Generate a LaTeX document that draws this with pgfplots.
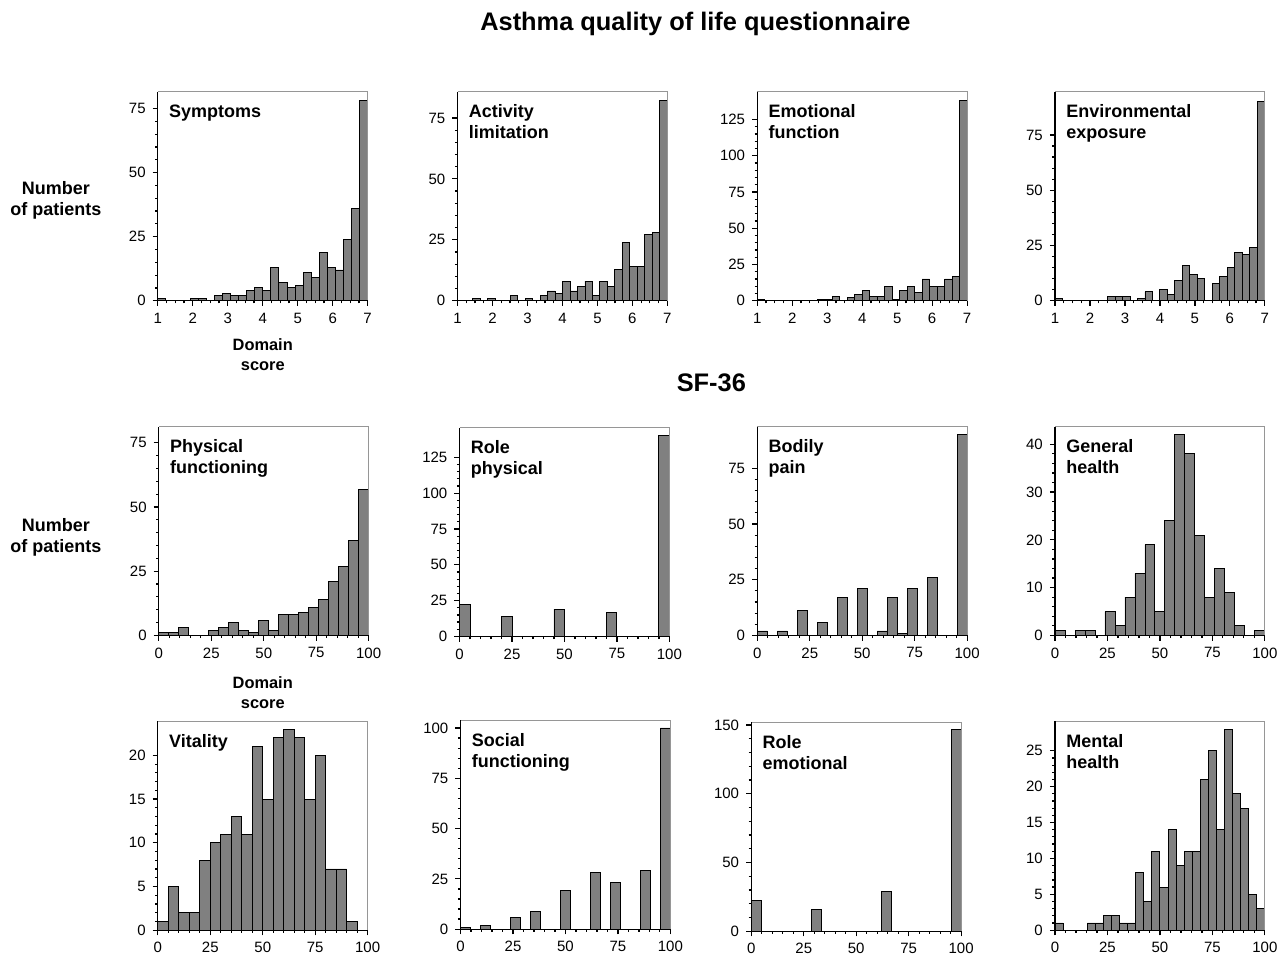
\documentclass[border=0pt]{standalone}
\usepackage{fontspec}
\setmainfont{Liberation Sans}
\usepackage{pgfplots}
\usepackage{pgfplotstable}
\pgfplotsset{compat=1.18}

\definecolor{barfill}{RGB}{128,128,128}
\definecolor{framegray}{RGB}{150,150,150}

% counts per bin, bins read left to right; last row closes the interval
\pgfplotstableread[row sep=\\]{n\\1\\0\\0\\0\\1\\1\\0\\2\\3\\2\\2\\4\\5\\4\\13\\7\\5\\6\\11\\9\\19\\13\\12\\24\\36\\78\\0\\}\tSym
\pgfplotstableread[row sep=\\]{n\\0\\0\\1\\0\\1\\0\\0\\2\\0\\1\\0\\2\\4\\3\\8\\4\\6\\8\\2\\8\\6\\13\\24\\14\\14\\27\\28\\82\\0\\}\tAct
\pgfplotstableread[row sep=\\]{n\\1\\0\\0\\0\\0\\0\\0\\0\\1\\1\\3\\0\\2\\4\\7\\3\\3\\10\\1\\7\\10\\6\\15\\10\\10\\15\\17\\138\\0\\}\tEmo
\pgfplotstableread[row sep=\\]{n\\1\\0\\0\\0\\0\\0\\0\\2\\2\\2\\0\\1\\4\\0\\5\\3\\9\\16\\12\\10\\0\\8\\11\\15\\22\\21\\24\\90\\0\\}\tEnv
\pgfplotstableread[row sep=\\]{n\\1\\1\\3\\0\\0\\2\\3\\5\\2\\1\\6\\2\\8\\8\\9\\11\\14\\21\\27\\37\\57\\0\\}\tPF
\pgfplotstableread[row sep=\\]{n\\22\\0\\0\\0\\14\\0\\0\\0\\0\\19\\0\\0\\0\\0\\17\\0\\0\\0\\0\\140\\0\\}\tRP
\pgfplotstableread[row sep=\\]{n\\2\\0\\2\\0\\11\\0\\6\\0\\17\\0\\21\\0\\2\\17\\1\\21\\0\\26\\0\\0\\90\\0\\}\tBP
\pgfplotstableread[row sep=\\]{n\\1\\0\\1\\1\\0\\5\\2\\8\\13\\19\\5\\24\\42\\38\\21\\8\\14\\9\\2\\0\\1\\0\\}\tGH
\pgfplotstableread[row sep=\\]{n\\1\\5\\2\\2\\8\\10\\11\\13\\11\\21\\15\\22\\23\\22\\15\\20\\7\\7\\1\\0\\0\\}\tVT
\pgfplotstableread[row sep=\\]{n\\1\\0\\2\\0\\0\\6\\0\\9\\0\\0\\19\\0\\0\\28\\0\\23\\0\\0\\29\\0\\100\\0\\}\tSF
\pgfplotstableread[row sep=\\]{n\\22\\0\\0\\0\\0\\0\\16\\0\\0\\0\\0\\0\\0\\29\\0\\0\\0\\0\\0\\0\\147\\0\\}\tRE
\pgfplotstableread[row sep=\\]{n\\1\\0\\0\\0\\1\\1\\2\\2\\1\\1\\8\\4\\11\\6\\14\\9\\11\\11\\21\\25\\14\\28\\19\\17\\5\\3\\0\\}\tMH

\pgfplotsset{
  hist/.style={
    scale only axis, width=105pt, height=104.5pt,
    anchor=south west,
    axis x line*=bottom, axis y line*=left,
    axis line style={-, black, line width=0.6pt},
    tick align=outside,
    major tick length=2.6pt, minor tick length=1.3pt,
    tick style={black, line width=0.6pt},
    minor y tick num=4,
    ymin=0,
    ticklabel style={font=\fontsize{7.5}{9}\selectfont},
    /pgf/number format/assume math mode=true,
    clip=false, axis on top,
  },
  aqlq/.style={hist, xmin=1, xmax=7, xtick={1,...,7}, minor x tick num=3},
  sf/.style={hist, xmin=0, xmax=100, xtick={0,25,...,100}, minor x tick num=4},
  bars/.style={ybar interval, fill=barfill, draw=black, line width=0.45pt},
}
\newcommand{\frameline}{\draw[framegray, line width=0.5pt] (rel axis cs:0,1) -- (rel axis cs:1,1) -- (rel axis cs:1,0);}
\newcommand{\plabel}[1]{\node[anchor=north west, align=left, inner sep=0pt,
  font=\bfseries\fontsize{9}{10.5}\selectfont] at ([xshift=5.5pt,yshift=-6.2pt]rel axis cs:0,1) {#1};}

\begin{document}
\begin{tikzpicture}
\path (0,0) rectangle (642pt,-481pt);
\node[font=\bfseries\fontsize{12.7}{15}\selectfont] at (348pt,-12pt) {Asthma quality of life questionnaire};
\node[font=\bfseries\fontsize{12.7}{15}\selectfont] at (356pt,-191.5pt) {SF-36};
\node[align=center, font=\bfseries\fontsize{9}{10.5}\selectfont] at (28pt,-100.5pt) {Number\\of patients};
\node[align=center, font=\bfseries\fontsize{9}{10.5}\selectfont] at (28pt,-269pt) {Number\\of patients};
\node[align=center, font=\bfseries\fontsize{8.2}{10}\selectfont] at (131.5pt,-177.5pt) {Domain\\score};
\node[align=center, font=\bfseries\fontsize{8.2}{10}\selectfont] at (131.5pt,-346.5pt) {Domain\\score};

% AQLQ row
\begin{axis}[aqlq, at={(79pt,-150.5pt)}, ymax=81.5, ytick={0,25,50,75}]
\addplot[bars] table[x expr=1+\coordindex*6/26, y=n] \tSym;
\frameline \plabel{Symptoms}
\end{axis}
\begin{axis}[aqlq, at={(229pt,-150.5pt)}, ymax=85.7, ytick={0,25,50,75}]
\addplot[bars] table[x expr=1+\coordindex*6/28, y=n] \tAct;
\frameline \plabel{Activity\\limitation}
\end{axis}
\begin{axis}[aqlq, at={(379pt,-150.5pt)}, ymax=144, ytick={0,25,...,125}]
\addplot[bars] table[x expr=1+\coordindex*6/28, y=n] \tEmo;
\frameline \plabel{Emotional\\function}
\end{axis}
\begin{axis}[aqlq, at={(528pt,-150.5pt)}, ymax=94.5, ytick={0,25,50,75}]
\addplot[bars] table[x expr=1+\coordindex*6/28, y=n] \tEnv;
\frameline \plabel{Environmental\\exposure}
\end{axis}

% SF-36 first row
\begin{axis}[sf, at={(79.5pt,-318pt)}, ymax=81.3, ytick={0,25,50,75}]
\addplot[bars] table[x expr=\coordindex*100/21, y=n] \tPF;
\frameline \plabel{Physical\\functioning}
\end{axis}
\begin{axis}[sf, at={(230pt,-318.5pt)}, ymax=145.8, ytick={0,25,...,125}]
\addplot[bars] table[x expr=\coordindex*5, y=n] \tRP;
\frameline \plabel{Role\\physical}
\end{axis}
\begin{axis}[sf, at={(379pt,-318pt)}, ymax=93.7, ytick={0,25,50,75}]
\addplot[bars] table[x expr=\coordindex*100/21, y=n] \tBP;
\frameline \plabel{Bodily\\pain}
\end{axis}
\begin{axis}[sf, at={(528pt,-318pt)}, ymax=43.7, ytick={0,10,...,40}]
\addplot[bars] table[x expr=\coordindex*100/21, y=n] \tGH;
\frameline \plabel{General\\health}
\end{axis}

% SF-36 second row
\begin{axis}[sf, at={(79pt,-465.5pt)}, ymax=23.9, ytick={0,5,...,20}]
\addplot[bars] table[x expr=\coordindex*5, y=n] \tVT;
\frameline \plabel{Vitality}
\end{axis}
\begin{axis}[sf, at={(230.5pt,-465pt)}, ymax=103.8, ytick={0,25,...,100}]
\addplot[bars] table[x expr=\coordindex*100/21, y=n] \tSF;
\frameline \plabel{Social\\functioning}
\end{axis}
\begin{axis}[sf, at={(376pt,-466pt)}, ymax=151.9, ytick={0,50,100,150}]
\addplot[bars] table[x expr=\coordindex*100/21, y=n] \tRE;
\frameline \plabel{Role\\emotional}
\end{axis}
\begin{axis}[sf, at={(528pt,-465.5pt)}, ymax=29.1, ytick={0,5,...,25}]
\addplot[bars] table[x expr=\coordindex*100/26, y=n] \tMH;
\frameline \plabel{Mental\\health}
\end{axis}
\end{tikzpicture}
\end{document}
